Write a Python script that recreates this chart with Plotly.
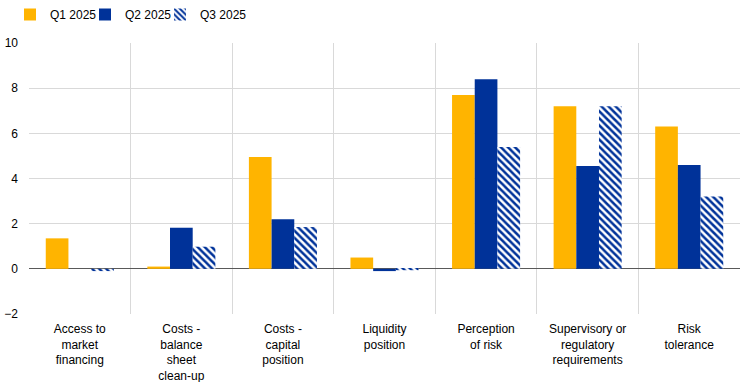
import plotly.graph_objects as go

categories = ["Access to<br>market<br>financing", "Costs -<br>balance<br>sheet<br>clean-up",
              "Costs -<br>capital<br>position", "Liquidity<br>position", "Perception<br>of risk",
              "Supervisory or<br>regulatory<br>requirements", "Risk<br>tolerance"]
q1_2025 = [1.35, 0.1, 4.95, 0.5, 7.7, 7.2, 6.3]
q2_2025 = [0.0, 1.82, 2.2, -0.1, 8.4, 4.55, 4.6]
q3_2025 = [-0.1, 0.98, 1.85, -0.06, 5.4, 7.2, 3.2]
y_ticks = [-2, 0, 2, 4, 6, 8, 10]

yellow = "#FFB400"
blue = "#003299"

fig = go.Figure()
fig.add_trace(go.Bar(name="Q1 2025", x=categories, y=q1_2025, legend="legend",
                     marker=dict(color=yellow, line=dict(width=0))))
fig.add_trace(go.Bar(name="Q2 2025", x=categories, y=q2_2025, legend="legend2",
                     marker=dict(color=blue, line=dict(width=0))))
fig.add_trace(go.Bar(name="Q3 2025", x=categories, y=q3_2025, legend="legend3",
                     marker=dict(color="white", line=dict(width=0),
                                 pattern=dict(shape="\\", fgcolor=blue, bgcolor="white", size=5, solidity=0.5, fillmode="replace"))))

leg_common = dict(orientation="h", xanchor="left", y=1.0, yanchor="top", xref="container",
                  yref="container", font=dict(size=12), itemwidth=30, bgcolor="rgba(0,0,0,0)")

fig.update_layout(
    width=742, height=382,
    margin=dict(l=29, r=2, t=43, b=68),
    barmode="group", bargap=0.33, bargroupgap=0,
    plot_bgcolor="white", paper_bgcolor="white",
    font=dict(family="Liberation Sans, Arial", size=12, color="black"),
    legend=dict(x=10 / 742, **leg_common),
    legend2=dict(x=85 / 742, **leg_common),
    legend3=dict(x=160 / 742, **leg_common),
    showlegend=True,
)
fig.update_xaxes(type="category", tickson="boundaries", showgrid=True, gridcolor="#d9d9d9", gridwidth=1,
                 ticks="", ticklabelstandoff=6, automargin=False,
                 tickfont=dict(family="Liberation Sans Narrow, Arial Narrow, Liberation Sans", size=12),
                 showline=False, mirror=False)
fig.update_yaxes(range=[-2, 10], tickvals=y_ticks, showgrid=True, gridcolor="#d9d9d9", gridwidth=1,
                 zeroline=True, zerolinecolor="#595959", zerolinewidth=1,
                 ticks="", ticklabelstandoff=10, automargin=False,
                 tickfont=dict(size=12), showline=False)

fig.write_html("out.html")
